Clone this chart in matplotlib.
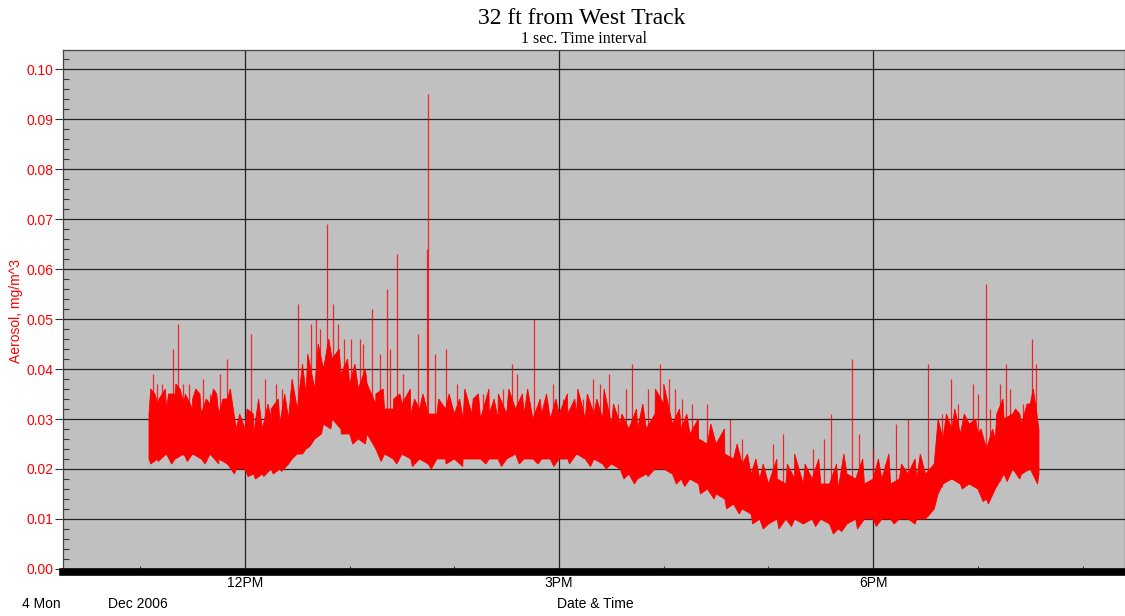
#!/usr/bin/env python3
"""Aerosol concentration 32 ft from West Track, 1 sec. time interval."""

import numpy as np
import matplotlib
matplotlib.use("Agg")
import matplotlib.pyplot as plt
from matplotlib.ticker import FixedLocator, MultipleLocator

# time of day in hours, 5 minute steps from 11:05 to 19:35
times = [11 + 5 / 60 + i * 5 / 60 for i in range(103)]

# lower / upper edge of the dense 1-second band (mg/m^3), read per 5 min
band_low = [
    0.022, 0.022, 0.023, 0.022, 0.023, 0.023, 0.022, 0.023, 0.022, 0.021,
    0.020, 0.020, 0.019, 0.019, 0.020, 0.020, 0.021, 0.023, 0.024, 0.026,
    0.029, 0.030, 0.028, 0.027, 0.026, 0.027, 0.024, 0.023, 0.022, 0.023,
    0.022, 0.022, 0.021, 0.022, 0.022, 0.022, 0.022, 0.022, 0.022, 0.022,
    0.022, 0.022, 0.023, 0.022, 0.022, 0.022, 0.022, 0.022, 0.022, 0.023,
    0.022, 0.022, 0.021, 0.021, 0.020, 0.019, 0.018, 0.019, 0.020, 0.020,
    0.019, 0.018, 0.018, 0.017, 0.016, 0.015, 0.014, 0.013, 0.012, 0.011,
    0.010, 0.009, 0.010, 0.010, 0.010, 0.009, 0.010, 0.010, 0.009, 0.008,
    0.009, 0.010, 0.010, 0.010, 0.010, 0.010, 0.010, 0.010, 0.010, 0.010,
    0.012, 0.017, 0.018, 0.017, 0.017, 0.016, 0.014, 0.016, 0.019, 0.020,
    0.019, 0.020, 0.019,
]
band_high = [
    0.031, 0.033, 0.032, 0.035, 0.033, 0.032, 0.031, 0.033, 0.031, 0.034,
    0.028, 0.028, 0.027, 0.028, 0.030, 0.029, 0.030, 0.032, 0.035, 0.036,
    0.040, 0.042, 0.039, 0.037, 0.036, 0.037, 0.033, 0.032, 0.032, 0.033,
    0.031, 0.032, 0.031, 0.031, 0.032, 0.031, 0.030, 0.031, 0.030, 0.031,
    0.030, 0.031, 0.032, 0.031, 0.030, 0.031, 0.030, 0.031, 0.031, 0.031,
    0.030, 0.031, 0.030, 0.029, 0.029, 0.028, 0.028, 0.028, 0.031, 0.033,
    0.029, 0.028, 0.027, 0.026, 0.025, 0.025, 0.023, 0.022, 0.021, 0.019,
    0.018, 0.017, 0.018, 0.017, 0.018, 0.017, 0.018, 0.017, 0.017, 0.016,
    0.019, 0.018, 0.017, 0.018, 0.018, 0.017, 0.018, 0.019, 0.018, 0.019,
    0.021, 0.026, 0.028, 0.027, 0.029, 0.027, 0.024, 0.026, 0.030, 0.031,
    0.029, 0.033, 0.028,
]

# small excursions just above the band (hour, mg/m^3)
bump_times = [
    11.10, 11.14, 11.18, 11.24, 11.27, 11.34, 11.38, 11.43, 11.50, 11.53,
    11.57, 11.63, 11.70, 11.73, 11.79, 11.86, 11.95, 12.02, 12.08, 12.13,
    12.22, 12.25, 12.32, 12.38, 12.45, 12.55, 12.60, 12.70, 12.80, 12.90,
    12.98, 13.05, 13.15, 13.25, 13.32, 13.42, 13.48, 13.58, 13.62, 13.70,
    13.85, 13.95, 14.05, 14.10, 14.18, 14.23, 14.33, 14.38, 14.42, 14.52,
    14.65, 14.70, 14.82, 14.88, 14.97, 15.08, 15.15, 15.18, 15.27, 15.36,
    15.43, 15.52, 15.60, 15.74, 15.80, 15.92, 16.00, 16.15, 16.22, 16.33,
    16.45, 16.58, 16.70, 16.80, 16.88, 16.95, 17.08, 17.18, 17.25, 17.35,
    17.48, 17.65, 17.72, 17.90, 18.05, 18.15, 18.27, 18.40, 18.45, 18.62,
    18.70, 18.78, 18.87, 18.98, 19.03, 19.14, 19.18, 19.24, 19.36, 19.40,
    19.47, 19.53,
]
bump_peaks = [
    0.036, 0.035, 0.034, 0.036, 0.035, 0.037, 0.036, 0.035, 0.034, 0.036,
    0.035, 0.034, 0.036, 0.035, 0.034, 0.036, 0.031, 0.032, 0.031, 0.034,
    0.033, 0.032, 0.034, 0.035, 0.038, 0.041, 0.043, 0.045, 0.046, 0.044,
    0.042, 0.041, 0.040, 0.035, 0.036, 0.034, 0.035, 0.036, 0.034, 0.035,
    0.034, 0.035, 0.034, 0.036, 0.034, 0.035, 0.036, 0.034, 0.035, 0.036,
    0.035, 0.036, 0.034, 0.035, 0.034, 0.035, 0.034, 0.036, 0.035, 0.034,
    0.036, 0.033, 0.031, 0.032, 0.033, 0.036, 0.037, 0.032, 0.031, 0.030,
    0.029, 0.028, 0.025, 0.023, 0.022, 0.021, 0.022, 0.021, 0.023, 0.021,
    0.022, 0.021, 0.023, 0.022, 0.022, 0.023, 0.021, 0.022, 0.023, 0.030,
    0.031, 0.032, 0.031, 0.030, 0.028, 0.028, 0.031, 0.034, 0.032, 0.031,
    0.033, 0.036,
]

# short dips below the band (hour, mg/m^3)
dip_times = [
    11.10, 11.17, 11.30, 11.45, 11.62, 11.75, 11.90, 12.03, 12.10, 12.18,
    12.27, 12.35, 12.45, 12.55, 12.62, 12.73, 12.82, 12.92, 13.03, 13.15,
    13.30, 13.45, 13.60, 13.78, 13.92, 14.08, 14.30, 14.45, 14.62, 14.80,
    14.95, 15.10, 15.30, 15.45, 15.62, 15.72, 15.85, 16.12, 16.20, 16.35,
    16.48, 16.60, 16.72, 16.85, 16.95, 17.10, 17.22, 17.45, 17.62, 17.70,
    17.85, 18.03, 18.20, 18.40, 18.62, 18.85, 19.05, 19.10, 19.28, 19.40,
    19.57,
]
dip_values = [
    0.021, 0.0215, 0.021, 0.0215, 0.021, 0.021, 0.019, 0.0185, 0.018, 0.0185,
    0.019, 0.0195, 0.022, 0.023, 0.0245, 0.027, 0.028, 0.027, 0.025, 0.025,
    0.0215, 0.021, 0.0205, 0.020, 0.021, 0.0205, 0.021, 0.0205, 0.021, 0.021,
    0.0205, 0.021, 0.0205, 0.020, 0.018, 0.017, 0.0185, 0.017, 0.0165, 0.015,
    0.014, 0.012, 0.011, 0.009, 0.008, 0.008, 0.0085, 0.0085, 0.007, 0.0075,
    0.008, 0.0085, 0.009, 0.009, 0.015, 0.016, 0.0135, 0.013, 0.0175, 0.018,
    0.017,
]

# tall spikes (hour, peak mg/m^3)
spike_times = [
    11.121, 11.160, 11.207, 11.312, 11.360, 11.408, 11.465, 11.599, 11.666,
    11.761, 11.828, 12.057, 12.191, 12.296, 12.353, 12.506, 12.630, 12.678,
    12.716, 12.783, 12.841, 12.888, 12.946, 13.012, 13.098, 13.127, 13.213,
    13.289, 13.356, 13.385, 13.452, 13.509, 13.652, 13.738, 13.748, 13.815,
    13.920, 14.025, 14.273, 14.464, 14.550, 14.598, 14.760, 14.942, 15.037,
    15.228, 15.324, 15.391, 15.477, 15.563, 15.639, 15.696, 15.849, 15.964,
    16.050, 16.107, 16.174, 16.269, 16.413, 16.537, 16.632, 16.747, 17.043,
    17.138, 17.425, 17.530, 17.597, 17.798, 17.864, 17.998, 18.113, 18.218,
    18.332, 18.523, 18.657, 18.743, 18.810, 18.953, 19.001, 19.077, 19.115,
    19.211, 19.268, 19.307, 19.431, 19.517, 19.555,
]
spike_peaks = [
    0.039, 0.037, 0.037, 0.044, 0.049, 0.037, 0.037, 0.038, 0.035,
    0.039, 0.042, 0.047, 0.038, 0.037, 0.036, 0.053, 0.049, 0.050,
    0.048, 0.069, 0.053, 0.049, 0.046, 0.046, 0.046, 0.045, 0.052,
    0.043, 0.056, 0.044, 0.063, 0.039, 0.047, 0.064, 0.095, 0.043,
    0.044, 0.037, 0.035, 0.036, 0.041, 0.039, 0.050, 0.037, 0.034,
    0.034, 0.038, 0.037, 0.039, 0.033, 0.036, 0.041, 0.036, 0.041,
    0.038, 0.036, 0.034, 0.033, 0.033, 0.026, 0.030, 0.026, 0.025,
    0.027, 0.024, 0.026, 0.031, 0.042, 0.027, 0.024, 0.021, 0.029,
    0.030, 0.041, 0.031, 0.038, 0.033, 0.037, 0.035, 0.057, 0.032,
    0.037, 0.041, 0.036, 0.033, 0.046, 0.041,
]

major_hours = [12, 15, 18]
major_labels = ["12PM", "3PM", "6PM"]
minor_hours = [11, 13, 14, 16, 17, 19, 20]

red = "#ff0000"
plt.rcParams["font.family"] = ["Liberation Sans", "DejaVu Sans"]

fig = plt.figure(figsize=(11.25, 6.16), dpi=100)
ax = fig.add_axes([63 / 1125, 1 - 572 / 616, 1062 / 1125, 522 / 616])
ax.set_facecolor("#c0c0c0")

# jagged band outline: band edges merged with the small excursions
up = sorted(zip(times + bump_times, band_high + bump_peaks))
dn = sorted(zip(times + dip_times, band_low + dip_values))
poly_x = [p[0] for p in up] + [p[0] for p in dn[::-1]]
poly_y = [p[1] for p in up] + [p[1] for p in dn[::-1]]
ax.fill(poly_x, poly_y, color=red, lw=0.6, zorder=3)

st = np.array(spike_times)
base = np.interp(st, np.array(times), np.array(band_low))
ax.vlines(st, base, spike_peaks, color=red, lw=0.9, alpha=0.8, zorder=3)

ax.set_xlim(10.262, 20.405)
ax.set_ylim(-0.0006, 0.1038)

yt = np.arange(0, 0.101, 0.01)
ax.set_yticks(yt)
ax.set_yticklabels([f"{v:.2f}" for v in yt])
ax.yaxis.set_minor_locator(MultipleLocator(0.002))
ax.tick_params(axis="y", which="major", length=6, width=0.8, pad=1,
               colors="#333333", labelcolor=red, labelsize=10)
ax.tick_params(axis="y", which="minor", direction="in", length=4.5,
               width=0.8, colors="#333333")

ax.xaxis.set_major_locator(FixedLocator(major_hours))
ax.xaxis.set_minor_locator(FixedLocator(minor_hours))
ax.set_xticklabels(major_labels)
ax.tick_params(axis="x", which="major", length=0, pad=3, labelsize=10)
ax.tick_params(axis="x", which="minor", direction="in", length=4,
               width=0.8, colors="#333333")

ax.grid(True, which="major", color="#222222", lw=0.9, zorder=1)
ax.set_axisbelow(True)

for side in ["top", "left", "right"]:
    ax.spines[side].set_color("#444444")
    ax.spines[side].set_linewidth(0.9)
ax.spines["bottom"].set_linewidth(5.5)
ax.spines["bottom"].set_color("black")

ax.set_ylabel("Aerosol, mg/m^3", color=red, fontsize=10, labelpad=2)

fig.text(0.517, 1 - 18 / 616, "32 ft from West Track", ha="center",
         va="center", fontsize=17, family="Liberation Serif")
fig.text(0.519, 1 - 39 / 616, "1 sec. Time interval", ha="center",
         va="center", fontsize=11.5, family="Liberation Serif")

fig.text(22 / 1125, 1 - 604 / 616, "4 Mon", ha="left", va="center",
         fontsize=10)
fig.text(108 / 1125, 1 - 604 / 616, "Dec 2006", ha="left", va="center",
         fontsize=10)
fig.text(595 / 1125, 1 - 604 / 616, "Date & Time", ha="center",
         va="center", fontsize=10)

fig.savefig("out.png", dpi=100)
